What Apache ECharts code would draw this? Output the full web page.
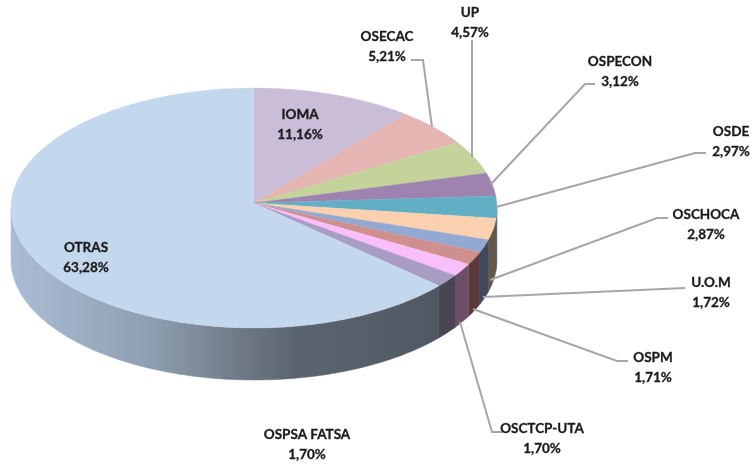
<!DOCTYPE html>
<html>
<head>
<meta charset="utf-8">
<script src="https://cdn.jsdelivr.net/npm/echarts@6/dist/echarts.min.js"></script>
<style>
    html, body { margin: 0; padding: 0; background: #fff; }
    #chart { width: 753px; height: 465px; }
</style>
</head>
<body>
<div id="chart"></div>
<script>
// valores en %, desde las 12 en sentido horario
const categories = ['IOMA', 'OSECAC', 'UP', 'OSPECON', 'OSDE', 'OSCHOCA', 'U.O.M', 'OSPM', 'OSCTCP-UTA', 'OSPSA FATSA', 'OTRAS'];
const values = [11.16, 5.21, 4.57, 3.12, 2.97, 2.87, 1.72, 1.71, 1.70, 1.70, 63.28];

const topColors = ['#c9bdd8', '#e5b5b4', '#c3d39a', '#9e82b0', '#62aec5', '#fbd0ae', '#93a9d2', '#cf8f8e', '#f8bffa', '#a99cc3', '#c3d7ed'];
const wallColors = ['#8a8296', '#9c7c7b', '#87926a', '#6c5a79', '#437888', '#65584a', '#3f4a5e', '#5a3a3a', '#6b5068', '#4a4552', '#4f5862'];

// centro de la elipse, radios, vertice de la torta y alto del canto
const cx = 254, cy = 208, rx = 243, ry = 120, apexY = 203, depth = 52;

// posicion de cada rotulo (centro de la primera linea) y de su linea guia
const labelLayout = [
    {x: 300, y: 114, line: null},
    {x: 387, y: 36, line: [[411, 60], [423, 60], [432, 127]]},
    {x: 470, y: 12, line: [[472, 40], [472, 157]]},
    {x: 620, y: 61, line: [[491, 184], [585, 84], [595, 84]]},
    {x: 731, y: 131, line: [[496, 207], [695, 153], [706, 153]]},
    {x: 706, y: 214, line: [[490, 280], [657, 218], [668, 218]]},
    {x: 711, y: 282, line: [[483, 297], [685, 288]]},
    {x: 653, y: 357, line: [[473, 309], [617, 361], [628, 361]]},
    {x: 542, y: 428, line: [[460, 322], [492, 432], [503, 432]]},
    {x: 307, y: 434, line: null},
    {x: 86, y: 247, line: null}
];

const total = values.reduce(function (a, b) { return a + b; }, 0);

// punto del borde: rayo desde el vertice hasta la elipse (la perspectiva corre el vertice hacia arriba)
function rimPoint(angle) {
    let dx = Math.sin(angle) * rx, dy = -Math.cos(angle) * ry;
    let off = apexY - cy;
    let a = dx * dx / (rx * rx) + dy * dy / (ry * ry);
    let b = 2 * dy * off / (ry * ry);
    let c = off * off / (ry * ry) - 1;
    let s = (-b + Math.sqrt(b * b - 4 * a * c)) / (2 * a);
    return [cx + dx * s, apexY + dy * s];
}

function rimArc(a0, a1) {
    let pts = [];
    let n = Math.max(2, Math.ceil(Math.abs(a1 - a0) / 0.01));
    for (let i = 0; i <= n; i++) {
        pts.push(rimPoint(a0 + (a1 - a0) * i / n));
    }
    return pts;
}

function renderSlice(params, api) {
    let i = params.dataIndex;
    let start = 0;
    for (let k = 0; k < i; k++) {
        start += values[k] / total * Math.PI * 2;
    }
    let end = start + api.value(1) / total * Math.PI * 2;
    let arc = rimArc(start, end);
    let children = [];

    // solo se ve el canto por debajo de la linea media de la elipse
    let lower = arc.filter(function (p) { return p[1] >= cy; });
    if (lower.length > 1) {
        let wall = lower.concat(lower.slice().reverse().map(function (p) { return [p[0], p[1] + depth]; }));
        let fill = wallColors[i];
        if (i === values.length - 1) {
            fill = new echarts.graphic.LinearGradient(cx - rx, 0, 445, 0, [
                {offset: 0, color: '#aabcd4'},
                {offset: 0.32, color: '#8f9fb2'},
                {offset: 0.49, color: '#75808d'},
                {offset: 0.655, color: '#5b6570'},
                {offset: 1, color: '#4f5862'}
            ], true);
        }
        children.push({
            type: 'polygon',
            z2: 1,
            shape: {points: wall},
            style: {fill: fill, stroke: fill, lineWidth: 0.5}
        });
    }

    children.push({
        type: 'polygon',
        z2: 2,
        shape: {points: [[cx, apexY]].concat(arc)},
        style: {fill: topColors[i], stroke: topColors[i], lineWidth: 0.3}
    });

    let layout = labelLayout[i];
    if (layout.line) {
        children.push({
            type: 'polyline',
            z2: 3,
            shape: {points: layout.line},
            style: {fill: 'none', stroke: '#a6a6a6', lineWidth: 2}
        });
    }
    children.push({
        type: 'text',
        z2: 4,
        x: layout.x,
        y: layout.y - 9,
        style: {
            text: categories[i] + '\n' + values[i].toFixed(2).replace('.', ',') + '%',
            font: 'bold 13.5px Lato',
            lineHeight: 19.5,
            fill: '#1a1a1a',
            stroke: '#1a1a1a',
            lineWidth: 0.3,
            align: 'center',
            verticalAlign: 'top'
        }
    });
    return {type: 'group', children: children};
}

let chart = echarts.init(document.getElementById('chart'), null, {renderer: 'canvas'});
chart.setOption({
    animation: false,
    backgroundColor: '#fff',
    tooltip: {show: false},
    series: [{
        type: 'custom',
        coordinateSystem: 'none',
        clip: false,
        data: categories.map(function (name, i) {
            return {name: name, value: [i, values[i]]};
        }),
        renderItem: renderSlice
    }]
});
</script>
</body>
</html>
